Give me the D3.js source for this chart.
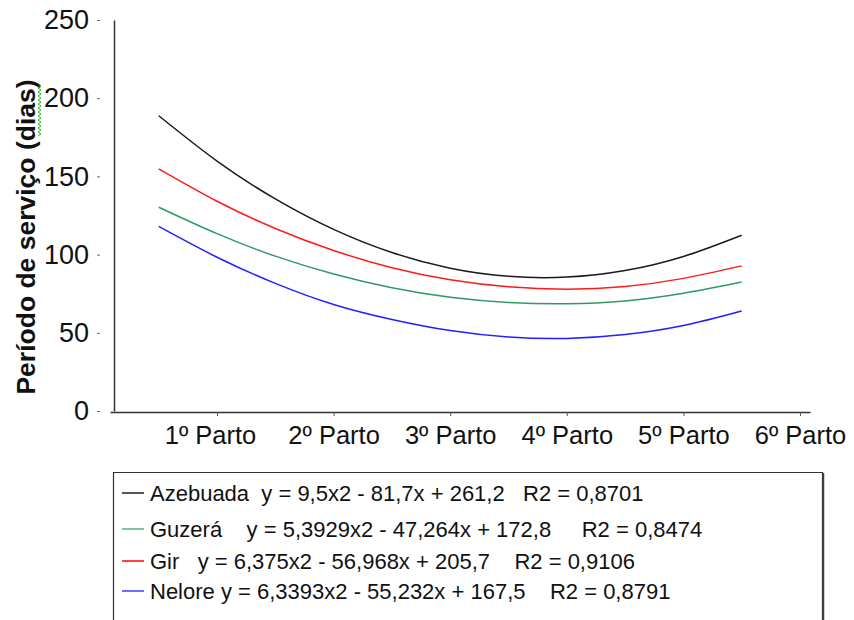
<!DOCTYPE html>
<html>
<head>
<meta charset="utf-8">
<script src="https://cdn.jsdelivr.net/npm/d3@7"></script>
<style>
  html, body { margin: 0; padding: 0; background: #fff; }
  svg { display: block; font-family: "Liberation Sans", Arial, sans-serif; }
</style>
</head>
<body>
<svg id="chart" width="854" height="620"></svg>
<script>
// ---- data ----
const categories = ["1º Parto", "2º Parto", "3º Parto", "4º Parto", "5º Parto", "6º Parto"];
const yTicks = [0, 50, 100, 150, 200, 250];
// curve sample positions (category units; 1 = "1º Parto")
const xs = [0.5, 1, 1.5, 2, 2.5, 3, 3.5, 4, 4.5, 5, 5.5];
const azebuada = [188.8, 159.8, 135.6, 116.1, 101.3, 91.3, 86.1, 85.6, 89.8, 98.8, 112.4];
const gir      = [154.8, 134.1, 116.7, 102.6, 91.6, 83.9, 79.4, 77.9, 79.6, 84.8, 92.8];
const guzera   = [130.3, 113.4, 99.0, 87.6, 78.8, 72.7, 69.4, 68.6, 70.4, 75.3, 82.5];
const nelore   = [118.0, 98.3, 81.6, 68.1, 58.5, 51.4, 47.3, 46.4, 48.9, 54.7, 64.0];
const seriesNames = ["Azebuada", "Guzerá", "Gir", "Nelore"];
const equations = [
  "y = 9,5x2 - 81,7x + 261,2",
  "y = 5,3929x2 - 47,264x + 172,8",
  "y = 6,375x2 - 56,968x + 205,7",
  "y = 6,3393x2 - 55,232x + 167,5"
];
const r2 = ["R2 = 0,8701", "R2 = 0,8474", "R2 = 0,9106", "R2 = 0,8791"];
const colors = ["#1a1a1a", "#2e9a63", "#ff1a1a", "#2020ff"];
const legendColors = ["#555555", "#7fc49f", "#ff4040", "#6f6fff"];

// ---- layout ----
const svg = d3.select("#chart");
const series = [
  {name: seriesNames[0], vals: azebuada, color: colors[0]},
  {name: seriesNames[1], vals: guzera, color: colors[1]},
  {name: seriesNames[2], vals: gir, color: colors[2]},
  {name: seriesNames[3], vals: nelore, color: colors[3]}
];

const x = d3.scaleLinear().domain([0.082, 6.086]).range([110, 810]);
const y = d3.scaleLinear().domain([0, 250]).range([411, 20]);

// x axis
const xAxis = svg.append("g").attr("transform", "translate(0,412)")
  .call(d3.axisBottom(x).tickValues([1,2,3,4,5,6]).tickSize(4).tickSizeOuter(0)
        .tickPadding(10).tickFormat(d => categories[d - 1]));
xAxis.select(".domain").attr("stroke", "#333").attr("stroke-width", 1.5);
xAxis.selectAll(".tick line").attr("stroke", "#555");
xAxis.selectAll("text").attr("font-size", 25.5).attr("fill", "#111")
  .attr("font-family", "Liberation Sans, Arial, sans-serif")
  .attr("dx", (d, i) => i === 0 ? -7 : 0);

// y axis line
const yLine = svg.append("g").attr("transform", "translate(114,0)")
  .call(d3.axisLeft(y).tickValues([]).tickSizeOuter(0));
yLine.select(".domain").attr("stroke", "#333").attr("stroke-width", 1.5);

// y ticks + labels (detached from the line, as in the reference)
const yAxis = svg.append("g").attr("transform", "translate(100,0)")
  .call(d3.axisLeft(y).tickValues(yTicks).tickSize(3).tickPadding(8));
yAxis.select(".domain").remove();
yAxis.selectAll(".tick line").attr("stroke", "#666");
yAxis.selectAll("text").attr("font-size", 27).attr("fill", "#111")
  .attr("font-family", "Liberation Sans, Arial, sans-serif");

// y title
svg.append("text")
  .attr("transform", "translate(35,237) rotate(-90)")
  .attr("text-anchor", "middle")
  .attr("font-size", 26.5).attr("font-weight", "bold").attr("fill", "#111")
  .text("Período de serviço (dias)");
// spell-check squiggle under "(dias)"
const sq = d3.path();
sq.moveTo(38.5, 84);
for (let i = 0, yy = 84; yy < 136; i++) { yy += 2; sq.lineTo(i % 2 ? 38 : 41, yy); }
svg.append("path").attr("d", sq.toString()).attr("fill", "none")
  .attr("stroke", "#2fb82f").attr("stroke-width", 1);

// curves
const line = d3.line().x((d, i) => x(xs[i])).y(d => y(d)).curve(d3.curveNatural);
svg.selectAll("path.series").data(series).join("path")
  .attr("class", "series")
  .attr("d", d => line(d.vals))
  .attr("fill", "none")
  .attr("stroke", d => d.color)
  .attr("stroke-width", 1.5);

// legend box
svg.append("path")
  .attr("d", "M113.5,625 V472.5 H822.5 V625")
  .attr("fill", "none").attr("stroke", "#333").attr("stroke-width", 1.2);
svg.append("line").attr("x1", 823.5).attr("x2", 823.5).attr("y1", 473).attr("y2", 625)
  .attr("stroke", "#444").attr("stroke-width", 1.5);

const rowY = [493, 529, 561, 591];
const legendText = [
  seriesNames[0] + "  " + equations[0] + "   " + r2[0],
  seriesNames[1] + "    " + equations[1] + "     " + r2[1],
  seriesNames[2] + "   " + equations[2] + "    " + r2[2],
  seriesNames[3] + " " + equations[3] + "    " + r2[3]
];
const lg = svg.append("g");
legendText.forEach((t, i) => {
  lg.append("line").attr("x1", 122).attr("x2", 144)
    .attr("y1", rowY[i]).attr("y2", rowY[i])
    .attr("stroke", legendColors[i]).attr("stroke-width", 2);
  lg.append("text").attr("x", 150).attr("y", rowY[i]).attr("dy", "0.35em")
    .attr("font-size", 22).attr("fill", "#111")
    .style("white-space", "pre")
    .text(t);
});
</script>
</body>
</html>
